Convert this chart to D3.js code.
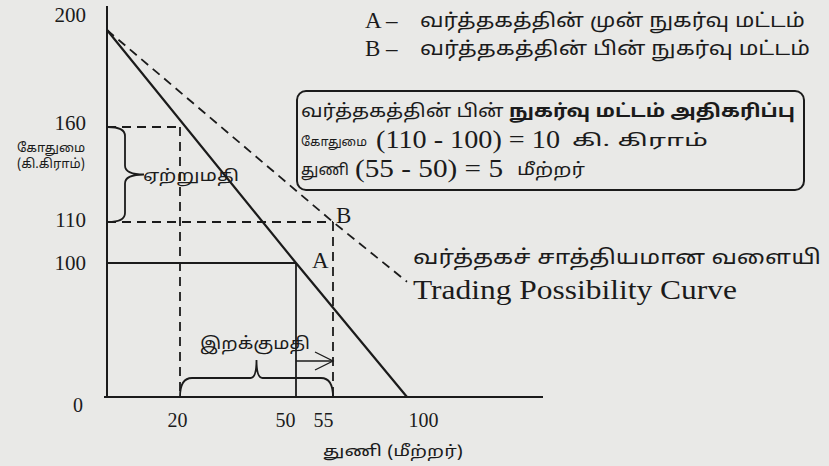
<!DOCTYPE html>
<html><head><meta charset="utf-8">
<script src="https://cdn.jsdelivr.net/npm/d3@7"></script>
<style>
html,body{margin:0;padding:0;background:#e9e9e7;}
svg{display:block;}
.tm{font-family:"Noto Sans Tamil","Noto Serif Tamil","Lohit Tamil","Latha",sans-serif;}
.rm{font-family:"Liberation Serif","Times New Roman",serif;}
</style></head>
<body>
<svg id="c" width="829" height="466"></svg>
<script>
// ---- data ----
const xTicks = [20, 50, 55, 100];
const yTicks = [200, 160, 110, 100];
const ppc = [[0, 200], [50, 100], [100, 0]];          // production possibility (solid)
const tpc = [[0, 200], [55, 110], [100, 86]];         // trading possibility (dashed)
const pointA = [50, 100];
const pointB = [55, 110];
const exportRange = [110, 160];   // wheat exported
const importRange = [20, 55];     // cloth imported
const legendA = "வர்த்தகத்தின் முன் நுகர்வு மட்டம்";
const legendB = "வர்த்தகத்தின் பின் நுகர்வு மட்டம்";
const boxTitleA = "வர்த்தகத்தின் பின் ";
const boxTitleB = "நுகர்வு மட்டம் அதிகரிப்பு";
const boxLine2 = ["கோதுமை", "(110 - 100) = 10", "கி. கிராம்"];
const boxLine3 = ["துணி", "(55 - 50) = 5", "மீற்றர்"];
const curveTa = "வர்த்தகச் சாத்தியமான வளையி";
const curveEn = "Trading Possibility Curve";
const yTitle = ["கோதுமை", "(கி.கிராம்)"];
const xTitle = "துணி (மீற்றர்)";
const exportLbl = "ஏற்றுமதி";
const importLbl = "இறக்குமதி";

// ---- scales (schematic, piecewise) ----
const x = d3.scaleLinear().domain([0, 20, 50, 55, 100]).range([107, 180, 296, 333, 407]);
const y = d3.scaleLinear().domain([0, 100, 110, 160, 200]).range([397, 263, 222, 127, 30]);

const ink = "#1b1b1b";
const svg = d3.select("#c");
svg.append("rect").attr("width", 829).attr("height", 466).attr("fill", "#e9e9e7");
const g = svg.append("g");

// fit a text to a target width: shrink font if too wide, stretch if too narrow
function fit(sel, target, cap) {
  sel.attr("font-size", cap);
  const w = sel.node().getComputedTextLength();
  if (w > target) sel.attr("font-size", (cap * target / w).toFixed(2));
  else sel.attr("textLength", target).attr("lengthAdjust", "spacingAndGlyphs");
  return sel;
}

// axes lines
g.append("line").attr("x1", x(0)).attr("x2", x(0)).attr("y1", 6).attr("y2", y(0) + 1)
  .attr("stroke", ink).attr("stroke-width", 2);
g.append("line").attr("x1", x(0) - 3).attr("x2", 543).attr("y1", y(0)).attr("y2", y(0))
  .attr("stroke", ink).attr("stroke-width", 2);

// tick labels through d3 axes
const yAx = g.append("g").attr("transform", `translate(${x(0)},0)`)
  .call(d3.axisLeft(y).tickValues(yTicks).tickSize(0).tickPadding(21));
yAx.select(".domain").remove();
const yOff = {200: -16, 160: -5, 110: -3, 100: -1};
yAx.selectAll("text").attr("class", "rm").attr("font-size", 21).attr("fill", ink)
  .attr("font-family", null).attr("dy", d => (yOff[d] + 7) + "px");

const xAx = g.append("g").attr("transform", `translate(0,${y(0)})`)
  .call(d3.axisBottom(x).tickValues(xTicks).tickSize(0).tickPadding(16));
xAx.select(".domain").remove();
const xOff = {20: -3, 50: -11, 55: -10, 100: 16};
xAx.selectAll("text").attr("class", "rm").attr("font-size", 20).attr("fill", ink)
  .attr("font-family", null).attr("dx", d => xOff[d] + "px");

g.append("text").attr("class", "rm").attr("x", 78).attr("y", y(0) + 15)
  .attr("text-anchor", "middle").attr("font-size", 20).attr("fill", ink).text("0");

// guide lines
const dash = "9,6";
const guide = (x1, y1, x2, y2, dashed) => g.append("line")
  .attr("x1", x(x1)).attr("y1", y(y1)).attr("x2", x(x2)).attr("y2", y(y2))
  .attr("stroke", ink).attr("stroke-width", 1.8).attr("stroke-dasharray", dashed ? dash : null);
guide(0, exportRange[1], importRange[0], exportRange[1], true);
guide(importRange[0], exportRange[1], importRange[0], 0, true);
guide(0, pointB[1], pointB[0], pointB[1], true);
guide(pointB[0], pointB[1], pointB[0], 0, true);
guide(0, pointA[1], pointA[0], pointA[1], false);
guide(pointA[0], pointA[1], pointA[0], 0, false);

// curves
const line = d3.line().x(d => x(d[0])).y(d => y(d[1]));
g.append("path").attr("d", line(ppc)).attr("fill", "none").attr("stroke", ink).attr("stroke-width", 2.2);
g.append("path").attr("d", line(tpc)).attr("fill", "none").attr("stroke", ink).attr("stroke-width", 1.8)
  .attr("stroke-dasharray", dash);

// export brace (vertical)
{
  const x0 = x(0) + 1, w = 17, xt = x0 + 36;
  const yt = y(exportRange[1]), yb = y(exportRange[0]), ym = (yt + yb) / 2, r = 9;
  const p = `M${x0},${yt} Q${x0 + w},${yt} ${x0 + w},${yt + r} L${x0 + w},${ym - r} Q${x0 + w},${ym} ${xt},${ym}` +
            ` M${xt},${ym} Q${x0 + w},${ym} ${x0 + w},${ym + r} L${x0 + w},${yb - r} Q${x0 + w},${yb} ${x0},${yb}`;
  g.append("path").attr("d", p).attr("fill", "none").attr("stroke", ink).attr("stroke-width", 1.8);
  g.append("text").attr("class", "tm").attr("x", xt - 1).attr("y", ym + 6).attr("font-size", 16)
    .attr("fill", ink).attr("textLength", 96).attr("lengthAdjust", "spacingAndGlyphs").text(exportLbl);
}
// import brace (horizontal)
{
  const xl = x(importRange[0]), xr = x(importRange[1]), xm = (xl + xr) / 2;
  const yb = y(0), h = 19, ytip = yb - 37, r = 12;
  const p = `M${xl},${yb} Q${xl},${yb - h} ${xl + r},${yb - h} L${xm - 6},${yb - h} Q${xm},${yb - h} ${xm},${ytip}` +
            ` Q${xm},${yb - h} ${xm + 6},${yb - h} L${xr - r},${yb - h} Q${xr},${yb - h} ${xr},${yb}`;
  g.append("path").attr("d", p).attr("fill", "none").attr("stroke", ink).attr("stroke-width", 1.8);
  g.append("text").attr("class", "tm").attr("x", 200).attr("y", ytip - 11).attr("font-size", 17)
    .attr("fill", ink).attr("textLength", 110).attr("lengthAdjust", "spacingAndGlyphs").text(importLbl);
  // arrow from 50 to 55
  const ay = yb - 36;
  g.append("line").attr("x1", x(pointA[0])).attr("x2", x(pointB[0])).attr("y1", ay).attr("y2", ay)
    .attr("stroke", ink).attr("stroke-width", 1.3);
  g.append("path").attr("d", `M${x(pointB[0]) - 18},${ay - 9} L${x(pointB[0])},${ay} L${x(pointB[0]) - 18},${ay + 9}`)
    .attr("fill", "none").attr("stroke", ink).attr("stroke-width", 1.3);
}

// point labels
g.append("text").attr("class", "rm").attr("x", x(pointA[0]) + 16).attr("y", y(pointA[1]) + 5)
  .attr("font-size", 23).attr("fill", ink).text("A");
g.append("text").attr("class", "rm").attr("x", x(pointB[0]) + 3).attr("y", y(pointB[1]) + 1)
  .attr("font-size", 23).attr("fill", ink).text("B");

// legend
g.append("text").attr("class", "rm").attr("x", 365).attr("y", 28).attr("font-size", 23).attr("fill", ink).text("A –");
g.append("text").attr("class", "rm").attr("x", 365).attr("y", 56).attr("font-size", 23).attr("fill", ink).text("B –");
g.append("text").attr("class", "tm").attr("x", 420).attr("y", 27).attr("font-size", 19).attr("fill", ink)
  .attr("textLength", 385).attr("lengthAdjust", "spacingAndGlyphs").text(legendA);
g.append("text").attr("class", "tm").attr("x", 420).attr("y", 55).attr("font-size", 19).attr("fill", ink)
  .attr("textLength", 390).attr("lengthAdjust", "spacingAndGlyphs").text(legendB);

// info box
g.append("rect").attr("x", 297).attr("y", 91).attr("width", 507).attr("height", 99).attr("rx", 9)
  .attr("fill", "none").attr("stroke", ink).attr("stroke-width", 2);
const t1 = g.append("text").attr("class", "tm").attr("x", 301).attr("y", 117).attr("font-size", 18).attr("fill", ink);
t1.append("tspan").text(boxTitleA);
t1.append("tspan").attr("font-weight", "bold").text(boxTitleB);
t1.attr("textLength", 494).attr("lengthAdjust", "spacingAndGlyphs");
const row = (parts, yy, xs, ws) => {
  fit(g.append("text").attr("class", "tm").attr("x", xs[0]).attr("y", yy).attr("fill", ink).text(parts[0]), ws[0], 17);
  g.append("text").attr("class", "rm").attr("x", xs[1]).attr("y", yy + 2).attr("font-size", 25).attr("fill", ink)
    .attr("textLength", ws[1]).attr("lengthAdjust", "spacingAndGlyphs").text(parts[1]);
  fit(g.append("text").attr("class", "tm").attr("x", xs[2]).attr("y", yy).attr("fill", ink).text(parts[2]), ws[2], 17);
};
row(boxLine2, 146, [301, 376, 572], [66, 184, 136]);
row(boxLine3, 175, [301, 355, 517], [48, 148, 68]);

// curve labels
g.append("text").attr("class", "tm").attr("x", 413).attr("y", 264).attr("font-size", 20).attr("fill", ink)
  .attr("textLength", 408).attr("lengthAdjust", "spacingAndGlyphs").text(curveTa);
g.append("text").attr("class", "rm").attr("x", 413).attr("y", 299).attr("font-size", 28).attr("fill", ink)
  .attr("textLength", 324).attr("lengthAdjust", "spacingAndGlyphs").text(curveEn);

// axis titles
g.append("text").attr("class", "tm").attr("x", 51).attr("y", 152).attr("text-anchor", "middle")
  .attr("font-size", 13).attr("fill", ink).text(yTitle[0]);
g.append("text").attr("class", "tm").attr("x", 51).attr("y", 168).attr("text-anchor", "middle")
  .attr("font-size", 13).attr("fill", ink).text(yTitle[1]);
g.append("text").attr("class", "tm").attr("x", 323).attr("y", 456)
  .attr("font-size", 15).attr("fill", ink).attr("textLength", 140).attr("lengthAdjust", "spacingAndGlyphs").text(xTitle);
</script>
</body></html>
